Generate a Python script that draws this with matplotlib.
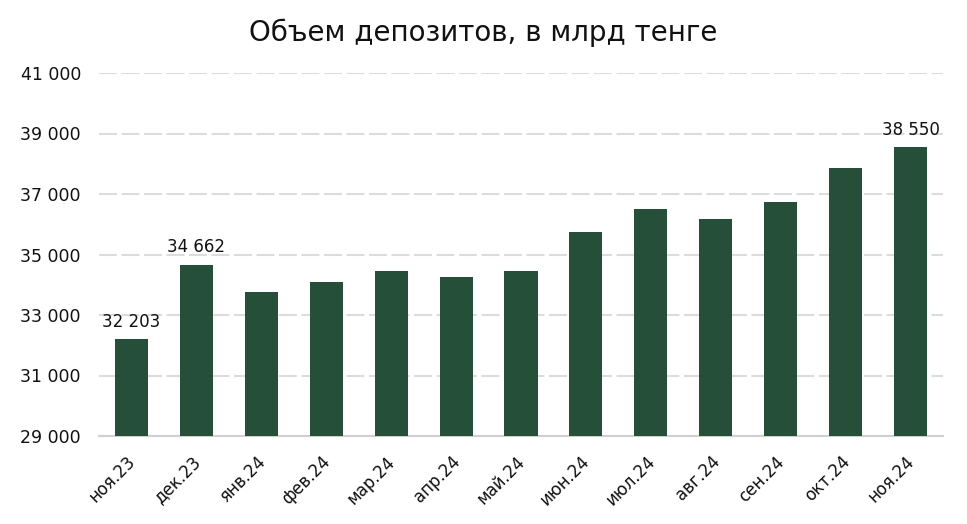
import matplotlib
matplotlib.use("Agg")
import matplotlib.pyplot as plt
import matplotlib.transforms as mtransforms
from matplotlib.ticker import FuncFormatter

categories = ["ноя.23", "дек.23", "янв.24", "фев.24", "мар.24", "апр.24", "май.24",
              "июн.24", "июл.24", "авг.24", "сен.24", "окт.24", "ноя.24"]
values = [32203, 34662, 33770, 34090, 34470, 34270, 34440,
          35730, 36490, 36190, 36720, 37850, 38550]
labeled = {0: "32 203", 1: "34 662", 12: "38 550"}
yticks = [29000, 31000, 33000, 35000, 37000, 39000, 41000]

plt.rcParams['font.family'] = ['DejaVu Sans']

fig = plt.figure(figsize=(9.67, 5.24), dpi=100)
ax = fig.add_axes([99/967, 1-436/524, (943-99)/967, (436-73)/524])

x = list(range(len(categories)))
ax.bar(x, values, width=0.51, color="#264F3A", zorder=3)
ax.set_xlim(-0.5, len(categories) - 0.5)
ax.set_ylim(29000, 41000)
ax.set_yticks(yticks)
ax.yaxis.set_major_formatter(FuncFormatter(lambda v, p: f"{int(v):,}".replace(",", " ")))
ax.grid(axis="y", color="#dcdcdc", linewidth=1.5, linestyle=(0, (8.6, 2.2)), zorder=0)
ax.set_xticks(x)
ax.set_xticklabels(categories, rotation=45, ha="right", rotation_mode="anchor", fontsize=12)
ax.tick_params(axis="y", labelsize=12.5, length=0, pad=13, labelcolor="#111111")
ax.tick_params(axis="x", length=0, pad=12, labelcolor="#111111")
offset = mtransforms.ScaledTranslation(-5/100, 0, fig.dpi_scale_trans)
for lbl in ax.get_xticklabels():
    lbl.set_transform(lbl.get_transform() + offset)
for s in ["top", "right", "left"]:
    ax.spines[s].set_visible(False)
ax.spines["bottom"].set_color("#d0d0d0")
ax.spines["bottom"].set_linewidth(1.5)

for i, lab in labeled.items():
    ax.annotate(lab, (x[i], values[i]), xytext=(0, 6), textcoords="offset points",
                ha="center", va="bottom", fontsize=12, color="#111111")

fig.text(0.5, 1-33/524, "Объем депозитов, в млрд тенге", ha="center", va="center",
         fontsize=20, color="#111111")

fig.savefig("out.png", dpi=100)
